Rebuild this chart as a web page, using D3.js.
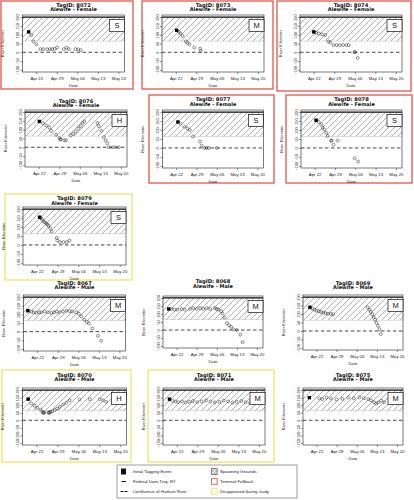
<!DOCTYPE html>
<html><head><meta charset="utf-8">
<script src="https://cdn.jsdelivr.net/npm/d3@7"></script>
<style>
html,body{margin:0;padding:0;background:#fff;}
svg{display:block;font-family:"Liberation Sans",Arial,sans-serif;}
</style></head><body>
<svg id="c" width="414" height="500"></svg>
<script>
// ---------------- DATA ----------------
const startDate = "2013-04-18";
const xTickLabels = ["Apr 22","Apr 29","May 06","May 13","May 20"];
const xTickDays = [4, 11, 18, 25, 32];
const xRangeDays = [-0.7, 34.1];
const yTicksStd = [-100,-50,0,50,100,150,200];
const yTicksWide = [-150,-100,-50,0,50,100,150,200];
const federalDamRkm = 200;
const confluenceRkm = 0;
const spawnLowRkm = 64;

const tagIds   = ["8072","8073","8074","8076","8077","8078","8079","8067","8068","8069","8070","8071","8075"];
const tagSex   = ["Female","Female","Female","Female","Female","Female","Female","Male","Male","Male","Male","Male","Male"];
const tagFate  = ["S","M","S","H","S","S","S","M","M","M","H","M","M"];
const tagStatus= ["fallback","fallback","fallback","none","fallback","fallback","disappeared","none","none","none","disappeared","disappeared","none"];
const tagYMin  = [-100,-100,-100,-100,-100,-100,-100,-100,-100,-100,-150,-150,-150];
const tagYMax  = [200,200,200,200,200,200,200,200,200,200,200,200,200];

const day8072 = [1.4,2.3,3.1,4.0,5.4,6.3,7.7,8.6,9.4,10.3,11.1,13.4,14.3,15.1,17.4,18.3,19.2];
const rkm8072 = [116,98,62,45,18,18,17,18,18,19,27,18,26,18,18,17,12];
const day8073 = [4.3,5.1,5.5,6.3,7.4,8.0,8.6,10.3,12.3,12.6];
const rkm8073 = [125,116,107,93,62,54,45,27,21,9];
const day8074 = [4.0,4.8,5.7,6.8,7.9,9.0,9.6,10.7,11.8,12.9,14.0,15.1,15.9,17.9,18.0,19.0];
const rkm8074 = [116,111,107,102,98,62,57,41,41,41,41,41,41,0,2,-32];
const day8076 = [4.2,5.4,6.5,7.6,8.2,9.9,11.0,11.3,11.5,12.7,13.3,14.9,15.7,16.6,17.5,18.3,18.9,19.5,24.0,24.5,25.4,26.2,26.8,27.4,27.9,29.1,30.2,31.3];
const rkm8076 = [147,138,124,112,94,71,53,44,46,40,40,67,76,88,106,120,138,147,138,120,94,58,40,23,0,0,0,0];
const day8077 = [4.6,5.5,6.9,7.9,8.7,9.8,12.2,12.75,13.7,14.5,15.3,18.0];
const rkm8077 = [145,136,118,109,100,64,36,13,0,0,0,0];
const day8078 = [4.5,5.4,6.3,6.8,7.3,8.0,8.5,9.7,9.8,10.5,11.9,17.8,19.0];
const rkm8078 = [155,145,131,113,104,85,67,40,42,18,40,-58,-76];
const day8079 = [4.9,5.4,5.7,6.2,6.7,7.1,7.6,7.9,8.5,9.0,10.7,10.9,11.8,13.0,14.1,15.0];
const rkm8079 = [155,150,143,132,127,120,114,107,93,75,39,25,16,16,16,25];
const day8067 = [0.8,2.0,2.75,3.7,4.6,5.4,6.5,7.6,8.8,9.7,10.7,11.6,12.75,13.9,15.0,15.9,17.3,18.2,19.0,20.1,20.9,21.6,22.75,24.7,25.8];
const rkm8067 = [121,116,112,108,112,112,116,112,108,112,116,112,116,121,118,116,112,103,88,69,56,47,19,-24,-52];
const day8068 = [1.3,2.25,3.4,4.35,5.75,6.9,8.7,9.8,11.0,12.2,13.3,14.5,15.7,17.4,18.0,18.6,19.5,20.0,20.7,21.5,22.3,23.0,23.8,25.0,26.2,27.0];
const rkm8068 = [131,131,127,127,131,127,131,137,131,137,131,137,131,137,131,127,118,102,78,43,29,20,4,0,-29,-75];
const day8069 = [1.7,2.5,3.3,4.0,4.8,5.6,6.4,7.2,8.0,9.0,9.8,21.8,22.4,22.9,23.4,23.9,24.4,24.9,25.4,25.9,26.4];
const rkm8069 = [140,132,126,120,116,112,108,105,102,100,98,140,125,112,98,82,66,48,30,10,-18];
const day8070 = [1.2,2.3,3.4,4.2,5.3,6.0,6.2,6.4,6.6,8.0,8.2,8.4,8.7,9.3,10.1,10.9,11.8,12.9,14.0,15.1,18.4,21.8,25.1,26.2,27.3];
const rkm8070 = [140,111,96,82,71,56,49,50,51,50,51,52,56,60,69,78,89,104,116,133,138,140,140,133,122];
const day8071 = [1.5,2.5,3.5,4.5,5.8,7.0,8.2,9.5,11.0,12.5,14.0,15.5,17.0,18.5,20.0,21.5,23.0,24.5,26.0,27.5,29.0];
const rkm8071 = [140,130,125,120,125,118,122,128,120,125,132,125,118,122,130,125,118,122,128,120,115];
const day8075 = [1.5,5.0,6.0,7.5,9.0,11.0,13.0,15.0,17.0,19.0,20.5,22.0,23.0,24.0,24.8,25.5,26.5,27.5];
const rkm8075 = [150,145,140,150,145,138,142,150,145,152,146,140,132,120,110,118,130,120];

const tracks = {
  "8072":[day8072,rkm8072],"8073":[day8073,rkm8073],"8074":[day8074,rkm8074],
  "8076":[day8076,rkm8076],"8077":[day8077,rkm8077],"8078":[day8078,rkm8078],
  "8079":[day8079,rkm8079],"8067":[day8067,rkm8067],"8068":[day8068,rkm8068],
  "8069":[day8069,rkm8069],"8070":[day8070,rkm8070],"8071":[day8071,rkm8071],
  "8075":[day8075,rkm8075]
};

const legendLeft  = ["Initial Tagging Event","Federal Dam-Troy, NY","Confluence of Hudson River"];
const legendRight = ["Spawning Grounds","Terminal Fallback","Disappeared during study"];

// ---------------- LAYOUT ----------------
const layout = {
  "8072":{plot:[22.5,15,102,57], frame:[1,1,132,88],   title:4.5},
  "8073":{plot:[162,15,102,57],  frame:[142,1,131,88], title:4.5},
  "8074":{plot:[300,15,102,57],  frame:[277,1,134,90], title:4.5},
  "8076":{plot:[25,110,102,57],  frame:null,           title:100.5},
  "8077":{plot:[162.5,110,101,58], frame:[149,95,125,88], title:98.8},
  "8078":{plot:[301,110,101,58], frame:[286,95,126,88], title:98.8},
  "8079":{plot:[23,207,103,58],  frame:[5,194,127,86],  title:198},
  "8067":{plot:[23.5,295,102,56],frame:null,           title:282.5},
  "8068":{plot:[163,296,100,52], frame:null,           title:281},
  "8069":{plot:[303,295,100,55], frame:null,           title:282.5},
  "8070":{plot:[22.5,388,104,57],frame:[2,370,129,92], title:374.5},
  "8071":{plot:[163,388,102,57], frame:[148,370,126,92], title:374.5},
  "8075":{plot:[303,388,100,57], frame:null,           title:374.5}
};
const frameColor = {fallback:"#e2574c", disappeared:"#efe56a"};

const svg = d3.select("#c");
const defs = svg.append("defs");
const pat = defs.append("pattern").attr("id","hatch")
  .attr("patternUnits","userSpaceOnUse").attr("width",6).attr("height",6);
pat.append("path").attr("d","M0,6 L6,0 M-1.5,1.5 L1.5,-1.5 M4.5,7.5 L7.5,4.5")
  .attr("stroke","#555").attr("stroke-width",0.45);
const pat2 = defs.append("pattern").attr("id","xh")
  .attr("patternUnits","userSpaceOnUse").attr("width",3).attr("height",3);
pat2.append("path").attr("d","M0,3 L3,0 M0,0 L3,3").attr("stroke","#666").attr("stroke-width",0.4);

const t0 = d3.timeParse("%Y-%m-%d")(startDate).getTime();
const toDate = d => new Date(t0 + d*864e5);

tagIds.forEach((id, i) => {
  const L = layout[id];
  const [px, py, pw, ph] = L.plot;
  const g = svg.append("g");

  const x = d3.scaleTime().domain(xRangeDays.map(toDate)).range([px, px+pw]);
  const lo = tagYMin[i], hi = tagYMax[i], pad = (hi-lo)*0.04;
  const y = d3.scaleLinear().domain([lo-pad, hi+pad]).range([py+ph, py]);
  const yTicks = lo < -120 ? yTicksWide : yTicksStd;

  if (L.frame && tagStatus[i] !== "none") {
    const [fx, fy, fw, fh] = L.frame;
    g.append("rect").attr("x",fx).attr("y",fy).attr("width",fw).attr("height",fh)
      .attr("fill","none").attr("stroke",frameColor[tagStatus[i]]).attr("stroke-width",1.3);
  }

  // spawning grounds hatch
  g.append("rect").attr("x",px).attr("width",pw)
    .attr("y",y(federalDamRkm)).attr("height",y(spawnLowRkm)-y(federalDamRkm))
    .attr("fill","url(#hatch)").attr("stroke","#aaa").attr("stroke-width",0.4);

  // federal dam
  g.append("line").attr("x1",px).attr("x2",px+pw).attr("y1",y(federalDamRkm)).attr("y2",y(federalDamRkm))
    .attr("stroke","#111").attr("stroke-width",1.2);
  // confluence
  g.append("line").attr("x1",px).attr("x2",px+pw).attr("y1",y(confluenceRkm)).attr("y2",y(confluenceRkm))
    .attr("stroke","#333").attr("stroke-width",0.9).attr("stroke-dasharray","3.5,2.5");

  // box
  g.append("rect").attr("x",px).attr("y",py).attr("width",pw).attr("height",ph)
    .attr("fill","none").attr("stroke","#222").attr("stroke-width",0.6);

  // x axis
  const xa = g.append("g").attr("transform",`translate(0,${py+ph})`)
    .call(d3.axisBottom(x).tickValues(xTickDays.map(toDate))
      .tickFormat((d,k)=>xTickLabels[k]).tickSize(2).tickPadding(2.6));
  xa.select(".domain").remove();
  xa.selectAll("line").attr("stroke","#222").attr("stroke-width",0.5);
  xa.selectAll("text").attr("font-size",4.3).attr("fill","#222").attr("font-family","Liberation Sans, Arial, sans-serif");

  // y axis
  const ya = g.append("g").attr("transform",`translate(${px},0)`)
    .call(d3.axisLeft(y).tickValues(yTicks).tickSize(2).tickFormat(d3.format("d")));
  ya.select(".domain").remove();
  ya.selectAll("line").attr("stroke","#222").attr("stroke-width",0.5);
  ya.selectAll("text").attr("font-size",3.8).attr("fill","#222").attr("font-family","Liberation Sans, Arial, sans-serif")
    .attr("x",0).attr("y",0).attr("dy",0).attr("text-anchor","middle")
    .attr("transform","translate(-3.4,0) rotate(-90)");

  // labels
  g.append("text").attr("x",px+pw/2).attr("y",py+ph+15).attr("text-anchor","middle")
    .attr("font-size",4.2).attr("fill","#222").text("Date");
  g.append("text").attr("transform",`translate(${px-18.5},${py+ph/2}) rotate(-90)`)
    .attr("text-anchor","middle").attr("font-size",4).attr("fill","#222").text("River Kilometer");

  g.append("text").attr("x",px+pw/2).attr("y",L.title+2).attr("text-anchor","middle")
    .attr("font-family","DejaVu Sans, sans-serif")
    .attr("font-size",5.2).attr("font-weight","bold").attr("fill","#111").text("TagID: "+id);
  g.append("text").attr("x",px+pw/2).attr("y",L.title+6.9).attr("text-anchor","middle")
    .attr("font-family","DejaVu Sans, sans-serif")
    .attr("font-size",5.0).attr("font-weight","bold").attr("fill","#111").text("Alewife - "+tagSex[i]);

  // points
  const [days, rkms] = tracks[id];
  const pts = days.map((d,k)=>({d:toDate(d), r:rkms[k], first:k===0}));
  g.selectAll("circle.pt").data(pts.filter(p=>!p.first)).join("circle").attr("class","pt")
    .attr("cx",p=>x(p.d)).attr("cy",p=>y(p.r)).attr("r",1.45)
    .attr("fill","none").attr("stroke","#222").attr("stroke-width",0.5);
  g.selectAll("rect.tag").data(pts.filter(p=>p.first)).join("rect").attr("class","tag")
    .attr("x",p=>x(p.d)-1.7).attr("y",p=>y(p.r)-1.7).attr("width",3.4).attr("height",3.4)
    .attr("fill","#000");

  // fate box
  g.append("rect").attr("x",px+pw-15).attr("y",py+4.5).attr("width",15).attr("height",12)
    .attr("fill","#fff").attr("stroke","#111").attr("stroke-width",0.7);
  g.append("text").attr("x",px+pw-7.5).attr("y",py+13.3).attr("text-anchor","middle")
    .attr("font-size",7.5).attr("fill","#111").text(tagFate[i]);
});

// ---------------- LEGEND ----------------
const lg = svg.append("g");
lg.append("rect").attr("x",117).attr("y",465).attr("width",180).attr("height",33)
  .attr("fill","#fff").attr("stroke","#888").attr("stroke-width",0.8);
const rows = [471.5, 481.5, 491.5];
lg.append("rect").attr("x",121).attr("y",rows[0]-3).attr("width",5).attr("height",6).attr("fill","#111");
lg.append("line").attr("x1",121.5).attr("x2",126).attr("y1",rows[1]).attr("y2",rows[1]).attr("stroke","#111").attr("stroke-width",1);
lg.append("line").attr("x1",120.5).attr("x2",127.5).attr("y1",rows[2]).attr("y2",rows[2]).attr("stroke","#111").attr("stroke-width",1).attr("stroke-dasharray","3,1");
legendLeft.forEach((t,k)=>lg.append("text").attr("x",133).attr("y",rows[k]+1.5).attr("font-size",4.3).attr("fill","#222").text(t));
lg.append("rect").attr("x",211.5).attr("y",rows[0]-2.8).attr("width",5.6).attr("height",5.6)
  .attr("fill","url(#xh)").attr("stroke","#333").attr("stroke-width",0.6);
lg.append("rect").attr("x",211.5).attr("y",rows[1]-2.8).attr("width",5.6).attr("height",5.6)
  .attr("fill","none").attr("stroke",frameColor.fallback).attr("stroke-width",0.9);
lg.append("rect").attr("x",211.5).attr("y",rows[2]-2.8).attr("width",5.6).attr("height",5.6)
  .attr("fill","none").attr("stroke",frameColor.disappeared).attr("stroke-width",0.9);
legendRight.forEach((t,k)=>lg.append("text").attr("x",220).attr("y",rows[k]+1.5).attr("font-size",4.3).attr("fill","#222").text(t));
</script>
</body></html>
